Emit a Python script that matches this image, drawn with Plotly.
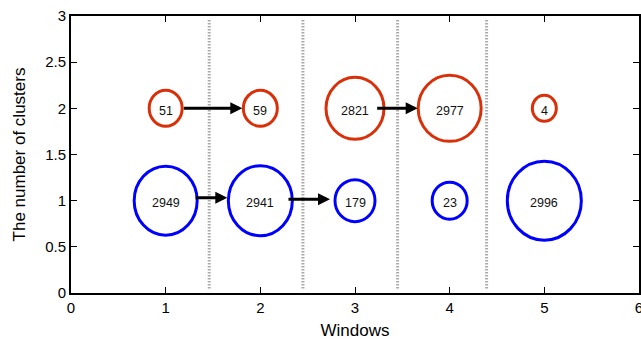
import plotly.graph_objects as go

# Cluster sizes per window: upper row (y = 2) and lower row (y = 1)
windows = [1, 2, 3, 4, 5]
upper_row = 2
lower_row = 1
upper_counts = [51, 59, 2821, 2977, 4]
lower_counts = [2949, 2941, 179, 23, 2996]

# Window boundaries (dotted separators)
boundaries = [1.46, 2.45, 3.45, 4.39]

# Cluster transitions: (row, from window, to window)
transitions = [(2, 1, 2), (2, 3, 4), (1, 1, 2), (1, 2, 3)]

# Drawing styles
RED = "#d9300a"
BLUE = "#0000ff"
FONT = "Liberation Sans, Arial, sans-serif"
# ring half-widths / half-heights in pixels for each cluster
upper_radii = [(16.5, 18), (17, 18), (29, 31), (31.5, 33), (12, 13)]
lower_radii = [(31.5, 34.5), (32, 35), (20, 21), (17.5, 18.5), (37, 39.5)]
# arrow geometry in pixels: (tip offset from target centre, length, vertical shift)
arrow_geom = [(-18, 60, 0), (-32, 42, 0), (-33, 33, 3), (-25, 43, 1.5)]

fig = go.Figure()
fig.add_trace(go.Scatter(x=[None], y=[None], showlegend=False))

shapes = []
annotations = []

for b in boundaries:
    shapes.append(dict(type="line", xref="x", yref="y", x0=b, x1=b, y0=0.05, y1=2.97,
                       line=dict(color="#aaaaaa", width=3, dash="1.5px,1.5px")))

for row, counts, radii, color in [(upper_row, upper_counts, upper_radii, RED),
                                  (lower_row, lower_counts, lower_radii, BLUE)]:
    for w, c, (rx, ry) in zip(windows, counts, radii):
        shapes.append(dict(type="circle", xref="x", yref="y",
                           xsizemode="pixel", ysizemode="pixel",
                           xanchor=w, yanchor=row, x0=-rx, x1=rx, y0=-ry, y1=ry,
                           line=dict(color=color, width=3)))
        annotations.append(dict(x=w, y=row, xref="x", yref="y", text=str(c),
                                showarrow=False, yshift=-2.5,
                                font=dict(family=FONT, size=12.5, color="#111")))

for (row, src, dst), (tip, length, ys) in zip(transitions, arrow_geom):
    annotations.append(dict(x=dst, y=row, xref="x", yref="y", text="",
                            showarrow=True, arrowhead=2, arrowsize=0.8, arrowwidth=3,
                            arrowcolor="black", ax=-length, ay=0,
                            xshift=tip, yshift=ys, standoff=0, startstandoff=0))

axis_common = dict(showline=True, linewidth=2, linecolor="black", mirror="ticks",
                   ticks="inside", ticklen=6, tickwidth=1, tickcolor="black",
                   showgrid=False, zeroline=False, ticklabeloverflow="allow",
                   automargin=False,
                   tickfont=dict(family=FONT, size=15, color="black"))

fig.update_layout(
    width=641, height=340,
    margin=dict(l=71, r=2, t=16, b=47),
    paper_bgcolor="white", plot_bgcolor="white",
    shapes=shapes, annotations=annotations,
    xaxis=dict(range=[0, 6], dtick=1, tick0=0,
               title=dict(text="Windows", font=dict(family=FONT, size=17, color="black"),
                          standoff=10),
               **axis_common),
    yaxis=dict(range=[0, 3], dtick=0.5, tick0=0,
               title=dict(text="The number of clusters",
                          font=dict(family=FONT, size=17, color="black"), standoff=15),
               **axis_common),
)

fig.write_html("out.html")
